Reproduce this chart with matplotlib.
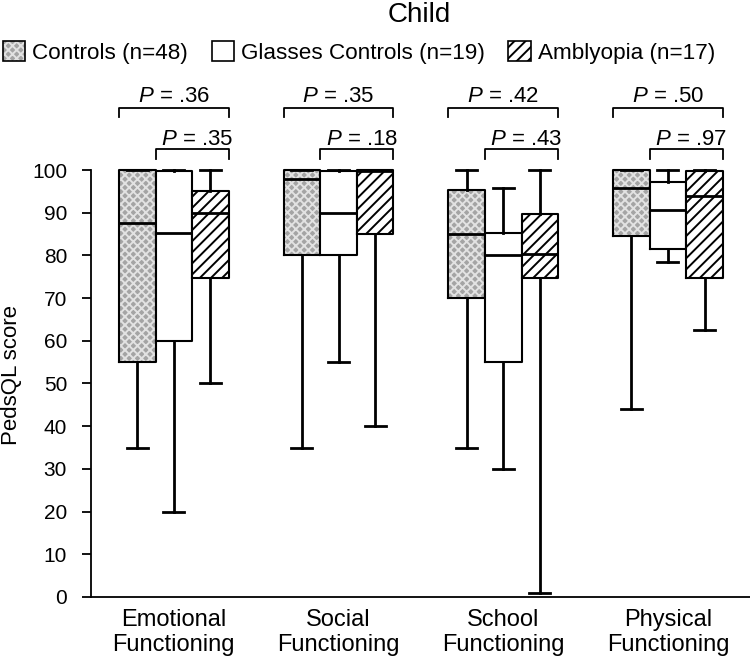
import matplotlib
matplotlib.use("Agg")
import matplotlib.pyplot as plt
import numpy as np
from matplotlib.patches import Patch

plt.rcParams["font.family"] = ["Liberation Sans", "DejaVu Sans"]
plt.rcParams["mathtext.fontset"] = "custom"
plt.rcParams["mathtext.it"] = "Liberation Sans:italic"
plt.rcParams["mathtext.rm"] = "Liberation Sans"
plt.rcParams["hatch.linewidth"] = 1.4

categories = ["Emotional\nFunctioning", "Social\nFunctioning",
              "School\nFunctioning", "Physical\nFunctioning"]
series_labels = ["Controls (n=48)", "Glasses Controls (n=19)", "Amblyopia (n=17)"]

# five-number summaries
controls_min = [35, 35, 35, 44]
controls_q1 = [55, 80, 70, 84.5]
controls_med = [87.5, 98, 85, 95.7]
controls_q3 = [100, 100, 95.2, 100]
controls_max = [100, 100, 100, 100]

glasses_min = [20, 55, 30, 78.5]
glasses_q1 = [60, 80, 55, 81.5]
glasses_med = [85.2, 90, 80, 90.6]
glasses_q3 = [99.7, 99.7, 85.2, 97.2]
glasses_max = [100, 100, 95.8, 100]

amb_min = [50, 40, 1, 62.5]
amb_q1 = [74.7, 85, 74.7, 74.7]
amb_med = [90, 99.7, 80.3, 93.8]
amb_q3 = [95, 100, 89.7, 99.8]
amb_max = [100, 100, 100, 100]

p_outer = [".36", ".35", ".42", ".50"]
p_inner = [".35", ".18", ".43", ".97"]


def make_stats(lo, q1, med, q3, hi):
    return [dict(whislo=a, q1=b, med=c, q3=d, whishi=e, fliers=[])
            for a, b, c, d, e in zip(lo, q1, med, q3, hi)]


stats_all = [
    make_stats(controls_min, controls_q1, controls_med, controls_q3, controls_max),
    make_stats(glasses_min, glasses_q1, glasses_med, glasses_q3, glasses_max),
    make_stats(amb_min, amb_q1, amb_med, amb_q3, amb_max),
]
# (offset, face colour, hatch, hatch colour)
styles = [
    (-0.222, "#a4a4a4", "xxxx", "#e2e2e2"),
    (0.0, "white", "", "white"),
    (0.222, "white", "///", "black"),
]

fig = plt.figure(figsize=(7.5, 6.62), dpi=100)
ax = fig.add_axes([0.1219, 0.0982, 0.8785, 0.645])

x = np.arange(1, len(categories) + 1)
box_w = 0.222
for stats, (off, face, hatch, hcol) in zip(stats_all, styles):
    pos = x + off
    # fill pass (hatch colour comes from the edge colour)
    fill = ax.bxp(stats, positions=pos, widths=box_w, patch_artist=True,
                  showcaps=False, showfliers=False, manage_ticks=False,
                  boxprops=dict(facecolor=face, edgecolor=hcol, hatch=hatch,
                                linewidth=0),
                  whiskerprops=dict(visible=False),
                  medianprops=dict(visible=False))
    # outline pass
    out = ax.bxp(stats, positions=pos, widths=box_w, capwidths=0.128,
                 showfliers=False, manage_ticks=False,
                 boxprops=dict(color="black", linewidth=1.5),
                 whiskerprops=dict(color="black", linewidth=2),
                 capprops=dict(color="black", linewidth=2),
                 medianprops=dict(color="black", linewidth=2,
                                  solid_capstyle="butt"))
    for d in (fill, out):
        for arts in d.values():
            for a in arts:
                a.set_clip_on(False)

# significance brackets
for g, po, pi in zip(x, p_outer, p_inner):
    x0, x1 = g - 1.5 * box_w, g + 1.5 * box_w
    ax.plot([x0, x0, x1, x1], [112.3, 114.6, 114.6, 112.3], color="black",
            lw=1.3, clip_on=False)
    ax.text(g, 116.0, f"$P$ = {po}", ha="center", va="baseline", fontsize=16)
    xi0 = g - 0.5 * box_w
    ax.plot([xi0, xi0, x1, x1], [102.5, 104.9, 104.9, 102.5], color="black",
            lw=1.3, clip_on=False)
    ax.text((xi0 + x1) / 2 + 0.03, 105.8, f"$P$ = {pi}", ha="center",
            va="baseline", fontsize=16)

ax.set_xlim(0.5, 4.5)
ax.set_ylim(0, 100)
ax.set_yticks(np.arange(0, 101, 10))
ax.set_xticks(x)
ax.set_xticklabels(categories)
for lbl in ax.get_xticklabels():
    lbl.set_linespacing(1.15)

ax.spines["top"].set_visible(False)
ax.spines["right"].set_visible(False)
ax.spines["left"].set_linewidth(1.3)
ax.spines["bottom"].set_linewidth(1.3)
ax.tick_params(axis="y", length=6.5, width=1.3, pad=11, labelsize=15)
ax.tick_params(axis="x", length=0, pad=9, labelsize=17)

ax.set_ylabel("PedsQL score", fontsize=16)
ax.yaxis.set_label_coords(-0.105, 0.52)

fig.text(0.559, 0.967, "Child", ha="center", va="baseline", fontsize=20)

handles = [
    (Patch(facecolor=styles[0][1], edgecolor=styles[0][3], hatch=styles[0][2],
           linewidth=0),
     Patch(facecolor="none", edgecolor="black", linewidth=1.2)),
    Patch(facecolor="white", edgecolor="black", linewidth=1.2),
    Patch(facecolor="white", edgecolor="black", hatch="///", linewidth=1.2),
]
fig.legend(handles, series_labels, loc="center left",
           bbox_to_anchor=(0.004, 0.921), ncol=3, frameon=False, fontsize=16.2,
           handlelength=1.0, handleheight=1.0, handletextpad=0.3,
           columnspacing=1.05, borderpad=0, borderaxespad=0)

fig.savefig("out.png", dpi=100)
plt.close(fig)
